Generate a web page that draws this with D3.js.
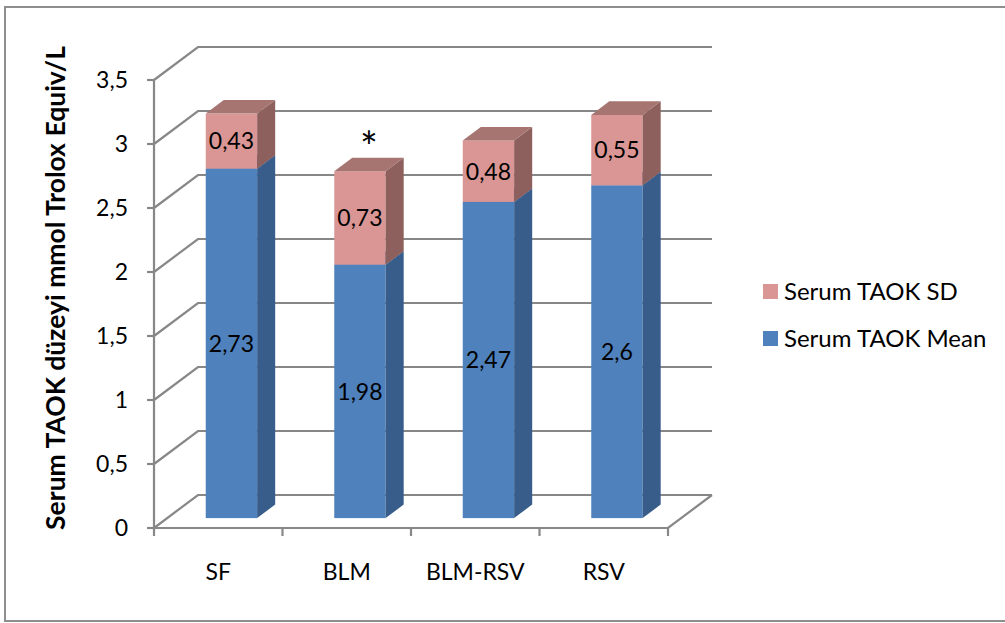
<!DOCTYPE html>
<html><head><meta charset="utf-8">
<script src="https://cdn.jsdelivr.net/npm/d3@7"></script>
<style>
body{margin:0;background:#fff}
svg{display:block}
text{font-family:Lato,"Open Sans",sans-serif;fill:#000}
</style>
</head><body>
<svg id="chart" width="1005" height="623"></svg>
<script>
// Serum TAOK level per group (mean and SD, stacked)
const categories = ["SF", "BLM", "BLM-RSV", "RSV"];
const meanValues = [2.73, 1.98, 2.47, 2.6];
const sdValues = [0.43, 0.73, 0.48, 0.55];
const yTicks = [0, 0.5, 1, 1.5, 2, 2.5, 3, 3.5];
const tickLabels = ["0", "0,5", "1", "1,5", "2", "2,5", "3", "3,5"];
const seriesNames = ["Serum TAOK SD", "Serum TAOK Mean"];
const markedCategory = "BLM";
const yTitle = "Serum TAOK düzeyi mmol Trolox Equiv/L";

const svg = d3.select("#chart");
const gridColor = "#878787";

// comma-decimal number format for the value labels
const fmt = d3.formatLocale({decimal: ",", thousands: ".", grouping: [3], currency: ["", ""]}).format("");

// oblique projection of the plot box
const DX = 44, DY = 33;              // wall depth offset
const barFront = 0.30, barBack = 0.71; // bar depth as a fraction of the wall depth
const x = d3.scaleBand().domain(categories).range([154, 668]);
const y = d3.scaleLinear().domain([0, 3.5]).range([528, 80]);

// outer chart frame
svg.append("rect").attr("x", 5).attr("y", 7).attr("width", 1010).attr("height", 614)
  .attr("fill", "none").attr("stroke", "#8e8e8e").attr("stroke-width", 2);

// gridlines: left wall diagonal + back wall horizontal
const grid = svg.append("g").attr("stroke", gridColor).attr("stroke-width", 2.2).attr("fill", "none");
yTicks.forEach(v => {
  const y0 = y(v);
  grid.append("path").attr("d", `M${x.range()[0]},${y0}L${x.range()[0] + DX},${y0 - DY}L${x.range()[1] + DX},${y0 - DY}`);
});
// floor front edge and right edge
grid.append("path").attr("d", `M${x.range()[0]},${y(0)}L${x.range()[1]},${y(0)}L${x.range()[1] + DX},${y(0) - DY}`);
// value axis line and ticks
grid.append("line").attr("x1", x.range()[0]).attr("x2", x.range()[0]).attr("y1", y(0)).attr("y2", y(3.5));
yTicks.forEach(v => grid.append("line").attr("x1", x.range()[0] - 7).attr("x2", x.range()[0]).attr("y1", y(v)).attr("y2", y(v)));
// category ticks
const edges = categories.map(c => x(c)).concat([x.range()[1]]);
edges.forEach(e => grid.append("line").attr("x1", e).attr("x2", e).attr("y1", y(0)).attr("y2", y(0) + 8));

// tick labels
svg.append("g").selectAll("text").data(yTicks).join("text")
  .attr("x", 128).attr("y", d => y(d)).attr("dy", "0.36em")
  .attr("text-anchor", "end").attr("font-size", 23)
  .text((d, i) => tickLabels[i]);

// category labels
svg.append("g").selectAll("text").data(categories).join("text")
  .attr("x", d => x(d) + x.bandwidth() / 2).attr("y", 580)
  .attr("text-anchor", "middle").attr("font-size", 23)
  .text(d => d);

// y title
svg.append("text")
  .attr("transform", "translate(65,288) rotate(-90)")
  .attr("text-anchor", "middle").attr("font-size", 26.5).attr("font-weight", "bold")
  .text(yTitle);

// stacked 3D bars
const barW = x.bandwidth() * 0.4;
const fx = barFront * DX, fy = -barFront * DY;
const bdx = (barBack - barFront) * DX, bdy = (barBack - barFront) * DY;

const segments = [];
categories.forEach((c, i) => {
  segments.push({c, v0: 0, v1: meanValues[i], val: meanValues[i], front: "#4f81bd", side: "#385d8a", top: "#4a73a6"});
  segments.push({c, v0: meanValues[i], v1: meanValues[i] + sdValues[i], val: sdValues[i], front: "#d99694", side: "#8d605e", top: "#a67471"});
});

const bars = svg.append("g");
segments.forEach(s => {
  const xl = x(s.c) + x.bandwidth() / 2 - barW / 2 + fx;
  const xr = xl + barW;
  const yb = y(s.v0) + fy, yt = y(s.v1) + fy;
  const g = bars.append("g");
  g.append("rect").attr("x", xl).attr("y", yt).attr("width", barW).attr("height", yb - yt).attr("fill", s.front);
  g.append("path").attr("d", `M${xr},${yb}L${xr},${yt}L${xr + bdx},${yt - bdy}L${xr + bdx},${yb - bdy}Z`).attr("fill", s.side);
  g.append("path").attr("d", `M${xl},${yt}L${xr},${yt}L${xr + bdx},${yt - bdy}L${xl + bdx},${yt - bdy}Z`).attr("fill", s.top);
  g.append("text").attr("x", (xl + xr) / 2).attr("y", (yt + yb) / 2).attr("dy", "0.36em")
    .attr("text-anchor", "middle").attr("font-size", 23).text(fmt(s.val));
});

// significance marker
const mi = categories.indexOf(markedCategory);
const mTop = y(meanValues[mi] + sdValues[mi]) + fy - bdy;
svg.append("text")
  .attr("x", x(markedCategory) + x.bandwidth() / 2 + fx + bdx / 2)
  .attr("y", mTop + 4).attr("text-anchor", "middle").attr("font-size", 42)
  .text("*");

// legend
const legendColors = ["#d99694", "#4f81bd"];
const lg = svg.append("g").attr("transform", "translate(763,284)");
seriesNames.forEach((n, i) => {
  lg.append("rect").attr("x", 0).attr("y", i * 47).attr("width", 15).attr("height", 15).attr("fill", legendColors[i]);
  lg.append("text").attr("x", 21).attr("y", i * 47 + 7.5).attr("dy", "0.36em").attr("font-size", 24).text(n);
});
</script>
</body></html>
